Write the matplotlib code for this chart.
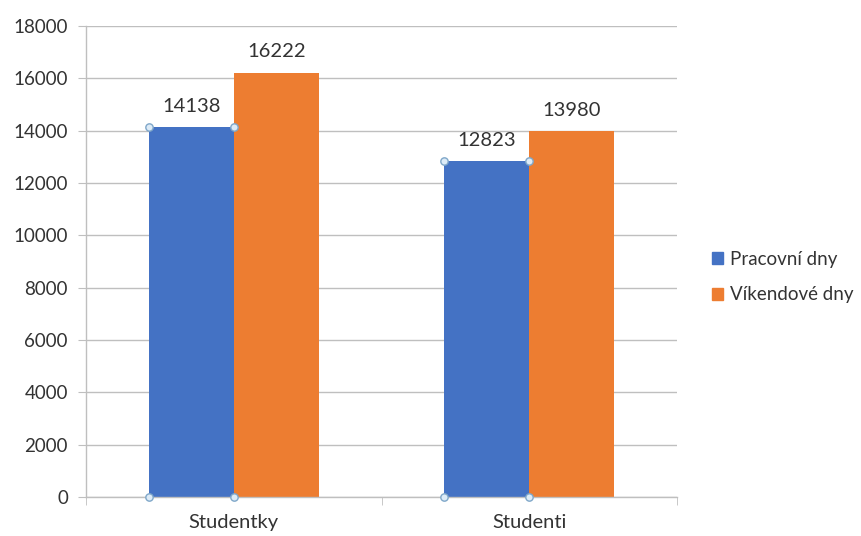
import matplotlib.pyplot as plt
from matplotlib.patches import Patch

categories = ['Studentky', 'Studenti']
pracovni = [14138, 12823]
vikendove = [16222, 13980]
series_names = ['Pracovní dny', 'Víkendové dny']

blue = '#4472C4'
orange = '#ED7D31'
txt = '#333333'
grid = '#BFBFBF'

plt.rcParams['font.family'] = ['Lato', 'DejaVu Sans']

fig = plt.figure(figsize=(8.62, 5.36), dpi=100)
ax = fig.add_axes([0.0998, 0.0728, 0.6856, 0.8787])

w = 0.288
x = list(range(len(categories)))
xb = [i - w / 2 for i in x]
xo = [i + w / 2 for i in x]
ax.bar(xb, pracovni, width=w, color=blue, zorder=3)
ax.bar(xo, vikendove, width=w, color=orange, zorder=3)

# data labels
for xi, v in zip(xb, pracovni):
    ax.annotate(str(v), (xi, v), xytext=(0, 9), textcoords='offset points',
                ha='center', va='bottom', fontsize=14.5, color=txt)
for xi, v in zip(xo, vikendove):
    ax.annotate(str(v), (xi, v), xytext=(0, 9), textcoords='offset points',
                ha='center', va='bottom', fontsize=14.5, color=txt)

# selection handles on the blue series
for xi, v in zip(xb, pracovni):
    hx = [xi - w / 2, xi + w / 2, xi - w / 2, xi + w / 2]
    hy = [v, v, 0, 0]
    ax.scatter(hx, hy, s=28, facecolor='#DDEBF7', edgecolor='#7FA7C9',
               linewidth=1, zorder=5, clip_on=False)

ax.set_xlim(-0.5, 1.5)
ax.set_ylim(0, 18000)
ax.set_yticks(range(0, 18001, 2000))
ax.yaxis.grid(True, color=grid, linewidth=1, zorder=0)
ax.set_xticks(x)
ax.set_xticklabels(categories)
ax.set_xticks([-0.5, 0.5, 1.5], minor=True)

for s in ['top', 'right']:
    ax.spines[s].set_visible(False)
for s in ['left', 'bottom']:
    ax.spines[s].set_color(grid)
    ax.spines[s].set_linewidth(1)
    ax.spines[s].set_zorder(4)

ax.tick_params(axis='y', length=6, color=grid, labelsize=13.5, labelcolor=txt, pad=7)
ax.tick_params(axis='x', which='major', length=0, labelsize=14.5, labelcolor=txt, pad=12)
ax.tick_params(axis='x', which='minor', length=6, color=grid)

handles = [Patch(color=blue), Patch(color=orange)]
fig.legend(handles, series_names, loc='center left', bbox_to_anchor=(0.806, 0.483),
           frameon=False, fontsize=13.5, labelcolor=txt, handlelength=0.6,
           handleheight=0.6, handletextpad=0.4, labelspacing=1.0)

fig.savefig('out.png', dpi=100)
